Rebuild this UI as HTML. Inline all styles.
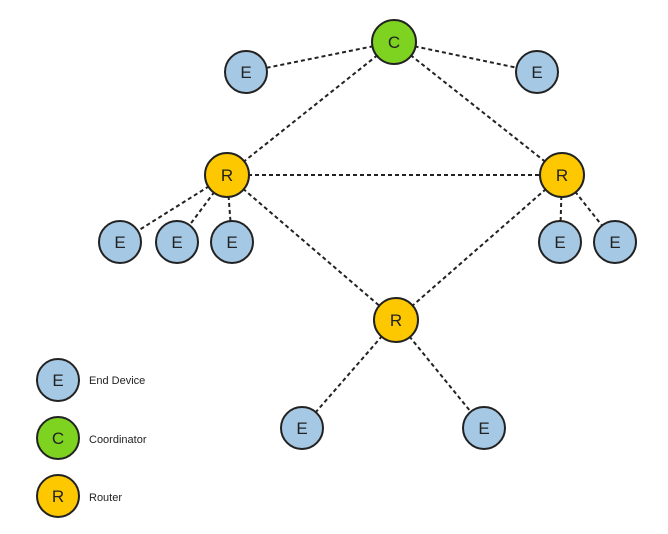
<!DOCTYPE html>
<html><head><style>body{margin:0;background:#fff}</style></head><body>
<svg width="668" height="529" xmlns="http://www.w3.org/2000/svg" font-family="Liberation Sans, sans-serif">
<g stroke="#222" stroke-width="2" stroke-dasharray="4,3">
<line x1="394" y1="42" x2="246" y2="72"/>
<line x1="394" y1="42" x2="537" y2="72"/>
<line x1="394" y1="42" x2="227" y2="175"/>
<line x1="394" y1="42" x2="562" y2="175"/>
<line x1="227" y1="175" x2="562" y2="175"/>
<line x1="227" y1="175" x2="120" y2="242"/>
<line x1="227" y1="175" x2="177" y2="242"/>
<line x1="227" y1="175" x2="232" y2="242"/>
<line x1="227" y1="175" x2="396" y2="320"/>
<line x1="562" y1="175" x2="560" y2="242"/>
<line x1="562" y1="175" x2="615" y2="242"/>
<line x1="562" y1="175" x2="396" y2="320"/>
<line x1="396" y1="320" x2="302" y2="428"/>
<line x1="396" y1="320" x2="484" y2="428"/>
</g>
<g stroke="#222" stroke-width="2" font-size="17" text-anchor="middle">
<g fill="#a5c8e4">
<circle cx="246" cy="72" r="21"/><circle cx="537" cy="72" r="21"/>
<circle cx="120" cy="242" r="21"/><circle cx="177" cy="242" r="21"/><circle cx="232" cy="242" r="21"/>
<circle cx="560" cy="242" r="21"/><circle cx="615" cy="242" r="21"/>
<circle cx="302" cy="428" r="21"/><circle cx="484" cy="428" r="21"/>
<circle cx="58" cy="380" r="21"/>
</g>
<circle cx="394" cy="42" r="22" fill="#7ed321"/>
<circle cx="58" cy="438" r="21" fill="#7ed321"/>
<g fill="#fdc800">
<circle cx="227" cy="175" r="22"/><circle cx="562" cy="175" r="22"/><circle cx="396" cy="320" r="22"/>
<circle cx="58" cy="496" r="21"/>
</g>
</g>
<g fill="#222" font-size="17" text-anchor="middle">
<text x="246" y="78">E</text><text x="537" y="78">E</text>
<text x="120" y="248">E</text><text x="177" y="248">E</text><text x="232" y="248">E</text>
<text x="560" y="248">E</text><text x="615" y="248">E</text>
<text x="302" y="434">E</text><text x="484" y="434">E</text>
<text x="58" y="386">E</text>
<text x="394" y="48">C</text><text x="58" y="444">C</text>
<text x="227" y="181">R</text><text x="562" y="181">R</text><text x="396" y="326">R</text><text x="58" y="502">R</text>
</g>
<g fill="#222" font-size="11">
<text x="89" y="384">End Device</text>
<text x="89" y="443">Coordinator</text>
<text x="89" y="501">Router</text>
</g>
</svg>
</body></html>
